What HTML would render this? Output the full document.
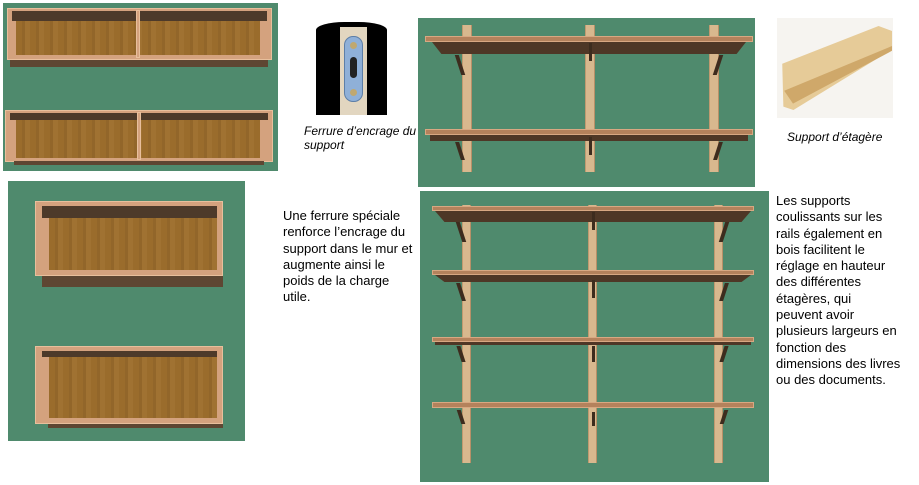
<!DOCTYPE html>
<html><head><meta charset="utf-8"><style>
body{margin:0;width:919px;height:485px;background:#fff;position:relative;overflow:hidden;font-family:"Liberation Sans",Arial,sans-serif;}
div{position:absolute;box-sizing:border-box;}
.g{background:#4f8a6d;}
.box{background:#d4a27e;border:1px solid #e8bf9c;}
.wood{background:repeating-linear-gradient(90deg,#9a6c2c 0 6px,#92662a 6px 9px,#a07232 9px 14px);}
.dk{background:#4d3a2a;}
.dk2{background:#5e4632;}
.rail{background:#d8b88e;border-left:1px solid #c09a70;border-right:1px solid #b89068;}
.shelf{background:#b4825c;border:1px solid #d8a882;}
.under{background:#4e3726;}
.bd{background:#3d2c1e;}
.t{font-size:13px;line-height:16.3px;color:#000;}
.i{font-style:italic;font-size:12px;line-height:14px;}
</style></head><body>

<div class="g" style="left:3px;top:3px;width:275px;height:168px;"></div>
<div class="box" style="left:7px;top:8px;width:265px;height:52px;"></div>
<div class="dk" style="left:12px;top:11px;width:255px;height:10px;"></div>
<div class="wood" style="left:16px;top:21px;width:244px;height:34px;"></div>
<div class="box" style="left:136px;top:10px;width:4px;height:48px;"></div>
<div class="dk2" style="left:10px;top:60px;width:258px;height:7px;"></div>
<div class="box" style="left:5px;top:110px;width:268px;height:52px;"></div>
<div class="dk" style="left:10px;top:113px;width:258px;height:7px;"></div>
<div class="wood" style="left:16px;top:120px;width:244px;height:38px;"></div>
<div class="box" style="left:137px;top:112px;width:4px;height:48px;"></div>
<div class="dk2" style="left:14px;top:161px;width:250px;height:4px;"></div>

<div style="left:316px;top:22px;width:71px;height:93px;background:#000;border-radius:40% 40% 0 0/8px 8px 0 0;"></div>
<div style="left:340px;top:27px;width:27px;height:88px;background:#e2d6c0;"></div>
<div style="left:344px;top:36px;width:19px;height:66px;background:#8fb0d8;border-radius:9px;border:1px solid #5d7fa8;"></div>
<div style="left:350px;top:57px;width:7px;height:21px;background:#222;border-radius:4px;"></div>
<div style="left:350px;top:42px;width:7px;height:7px;background:#c0a870;border-radius:50%;"></div>
<div style="left:350px;top:89px;width:7px;height:7px;background:#c0a870;border-radius:50%;"></div>
<div class="i" style="left:304px;top:124px;white-space:nowrap;">Ferrure d’encrage du<br>support</div>

<div class="g" style="left:418px;top:18px;width:337px;height:169px;"></div>
<div class="rail" style="left:462px;top:25px;width:10px;height:147px;"></div>
<div class="rail" style="left:585px;top:25px;width:10px;height:147px;"></div>
<div class="rail" style="left:709px;top:25px;width:10px;height:147px;"></div>
<div class="shelf" style="left:425px;top:36px;width:328px;height:6px;"></div>
<div class="under" style="left:432px;top:42px;width:314px;height:12px;clip-path:polygon(0 0,100% 0,97% 100%,3% 100%);"></div>
<div class="shelf" style="left:425px;top:129px;width:328px;height:6px;"></div>
<div class="under" style="left:430px;top:135px;width:318px;height:6px;"></div>
<div class="bd" style="left:458px;top:55px;width:4px;height:20px;transform:skewX(18deg);"></div>
<div class="bd" style="left:589px;top:43px;width:3px;height:18px;"></div>
<div class="bd" style="left:716px;top:55px;width:4px;height:20px;transform:skewX(-18deg);"></div>
<div class="bd" style="left:458px;top:142px;width:4px;height:18px;transform:skewX(18deg);"></div>
<div class="bd" style="left:589px;top:137px;width:3px;height:18px;"></div>
<div class="bd" style="left:716px;top:142px;width:4px;height:18px;transform:skewX(-18deg);"></div>

<div style="left:777px;top:18px;width:116px;height:100px;background:#f6f4f0;"></div>
<div style="left:780px;top:26px;width:112px;height:84px;background:#e6cb98;clip-path:polygon(2% 45%,88% 0,100% 6%,100% 28%,12% 100%,3% 96%);"></div>
<div style="left:782px;top:30px;width:110px;height:80px;background:#cfa86a;clip-path:polygon(2% 76%,100% 20%,100% 26%,10% 92%);"></div>
<div class="i" style="left:787px;top:130px;white-space:nowrap;">Support d’étagère</div>

<div class="g" style="left:8px;top:181px;width:237px;height:260px;"></div>
<div class="box" style="left:35px;top:201px;width:188px;height:75px;"></div>
<div class="dk" style="left:42px;top:206px;width:175px;height:12px;"></div>
<div class="wood" style="left:49px;top:218px;width:168px;height:52px;"></div>
<div class="dk2" style="left:42px;top:276px;width:181px;height:11px;"></div>
<div class="box" style="left:35px;top:346px;width:188px;height:78px;"></div>
<div class="dk" style="left:42px;top:351px;width:175px;height:6px;"></div>
<div class="wood" style="left:49px;top:357px;width:168px;height:61px;"></div>
<div class="dk2" style="left:48px;top:424px;width:175px;height:4px;"></div>

<div class="t" style="left:283px;top:208px;width:140px;">Une ferrure spéciale<br>renforce l’encrage du<br>support dans le mur et<br>augmente ainsi le<br>poids de la charge<br>utile.</div>

<div class="g" style="left:420px;top:191px;width:349px;height:291px;"></div>
<div class="rail" style="left:462px;top:205px;width:9px;height:258px;"></div>
<div class="rail" style="left:588px;top:205px;width:9px;height:258px;"></div>
<div class="rail" style="left:714px;top:205px;width:9px;height:258px;"></div>
<div class="shelf" style="left:432px;top:206px;width:322px;height:5px;"></div>
<div class="under" style="left:435px;top:211px;width:316px;height:11px;clip-path:polygon(0 0,100% 0,97% 100%,3% 100%);"></div>
<div class="shelf" style="left:432px;top:270px;width:322px;height:5px;"></div>
<div class="under" style="left:435px;top:275px;width:316px;height:7px;clip-path:polygon(0 0,100% 0,97% 100%,3% 100%);"></div>
<div class="shelf" style="left:432px;top:337px;width:322px;height:5px;"></div>
<div class="under" style="left:435px;top:342px;width:316px;height:3px;"></div>
<div class="shelf" style="left:432px;top:402px;width:322px;height:6px;"></div>
<div class="bd" style="left:459px;top:222px;width:4px;height:20px;transform:skewX(18deg);"></div>
<div class="bd" style="left:592px;top:212px;width:3px;height:18px;"></div>
<div class="bd" style="left:722px;top:222px;width:4px;height:20px;transform:skewX(-18deg);"></div>
<div class="bd" style="left:459px;top:283px;width:4px;height:18px;transform:skewX(18deg);"></div>
<div class="bd" style="left:592px;top:280px;width:3px;height:18px;"></div>
<div class="bd" style="left:722px;top:283px;width:4px;height:18px;transform:skewX(-18deg);"></div>
<div class="bd" style="left:459px;top:346px;width:4px;height:16px;transform:skewX(18deg);"></div>
<div class="bd" style="left:592px;top:346px;width:3px;height:16px;"></div>
<div class="bd" style="left:722px;top:346px;width:4px;height:16px;transform:skewX(-18deg);"></div>
<div class="bd" style="left:459px;top:410px;width:4px;height:14px;transform:skewX(18deg);"></div>
<div class="bd" style="left:592px;top:412px;width:3px;height:14px;"></div>
<div class="bd" style="left:722px;top:410px;width:4px;height:14px;transform:skewX(-18deg);"></div>

<div class="t" style="left:776px;top:193px;width:142px;">Les supports<br>coulissants sur les<br>rails également en<br>bois facilitent le<br>réglage en hauteur<br>des différentes<br>étagères, qui<br>peuvent avoir<br>plusieurs largeurs en<br>fonction des<br>dimensions des livres<br>ou des documents.</div>
</body></html>
